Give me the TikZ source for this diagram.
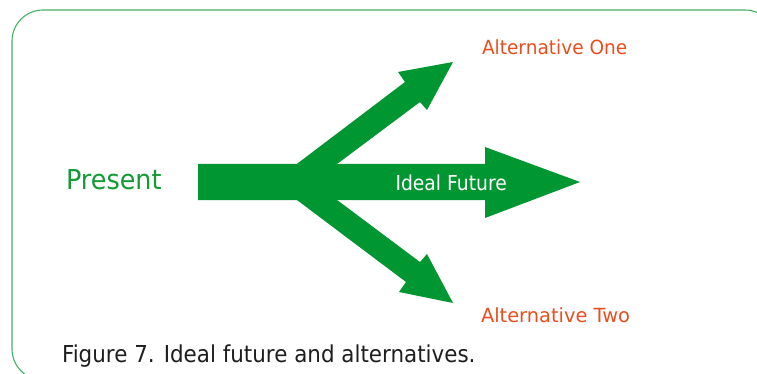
\documentclass[tikz,border=0pt]{standalone}
\usepackage{fontspec}
\usepackage{graphicx}
\setmainfont{DejaVu Sans}
\definecolor{arrowgreen}{RGB}{0,150,50}
\definecolor{textgreen}{RGB}{20,155,55}
\definecolor{framegreen}{RGB}{70,175,100}
\definecolor{altorange}{RGB}{232,78,30}
\definecolor{captiongray}{RGB}{30,30,30}
\newcommand{\narrowtxt}[2]{\scalebox{#1}[1]{#2}}
\begin{document}
\begin{tikzpicture}[x=1pt,y=-1pt,
  lbl/.style={inner sep=0pt,outer sep=0pt,anchor=base west},
  bigarrow/.style={fill=arrowgreen,draw=none}]
\useasboundingbox (0,0) rectangle (757,374);
\begin{scope}
\clip (0,0) rectangle (757,374);
\draw[framegreen,line width=1.1pt,rounded corners=31pt] (12,10) rectangle (776,380);
\end{scope}
% branch arrows
\fill[bigarrow] (273,182) -- (405,82) -- (398,72) -- (453,62) -- (427,110) -- (420,102) -- (313,182) -- cycle;
\fill[bigarrow] (273,182) -- (406,282) -- (399,292) -- (453,303) -- (427,254) -- (420,262) -- (313,182) -- cycle;
% main arrow
\fill[bigarrow] (198,164) -- (485,164) -- (485,147) -- (580,182) -- (485,218) -- (485,200) -- (198,200) -- cycle;
\node[lbl,text=textgreen,font=\fontsize{27.4}{32}\selectfont] (present) at (66,189.5) {\narrowtxt{0.93}{Present}};
\node[lbl,text=white,font=\fontsize{20.6}{24}\selectfont] (ideal) at (395.5,190) {\narrowtxt{0.91}{Ideal Future}};
\node[lbl,text=altorange,font=\fontsize{19.5}{23}\selectfont] (altone) at (482,55) {\narrowtxt{0.95}{Alternative One}};
\node[lbl,text=altorange,font=\fontsize{19.5}{23}\selectfont] (alttwo) at (481,322) {\narrowtxt{0.995}{Alternative Two}};
\node[lbl,text=captiongray,font=\fontsize{23.3}{27}\selectfont] (caption) at (62,362) {\narrowtxt{0.92}{Figure 7. Ideal future and alternatives.}};
\end{tikzpicture}
\end{document}
